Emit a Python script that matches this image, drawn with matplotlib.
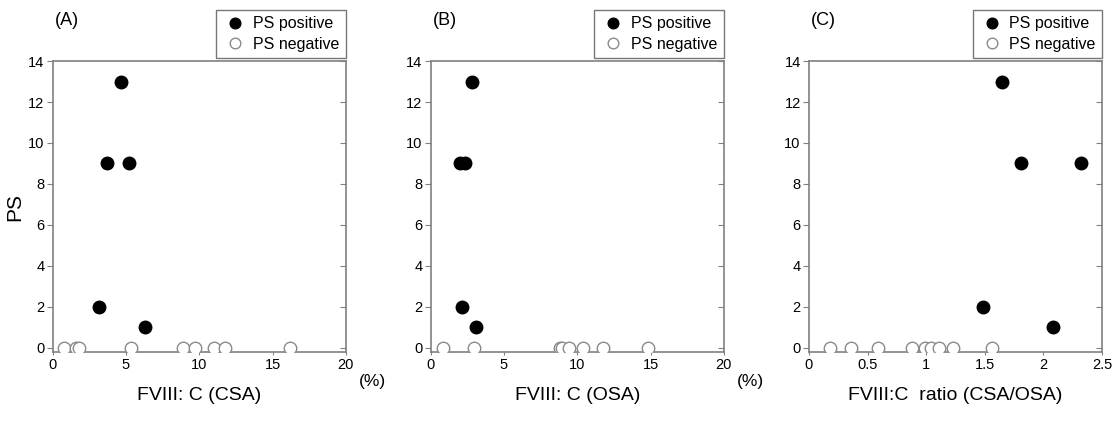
import matplotlib
matplotlib.use('Agg')
import matplotlib.pyplot as plt

plt.rcParams['font.family'] = ['Liberation Sans', 'DejaVu Sans']

# PS score for positive cases (same order in every panel)
ps_pos = [13, 9, 9, 2, 1]

# (A) FVIII:C by CSA (%)
csa_pos = [4.66, 3.68, 5.18, 3.18, 6.29]
csa_neg = [0.77, 1.57, 1.79, 5.32, 8.86, 9.72, 10.99, 11.76, 16.22]

# (B) FVIII:C by OSA (%)
osa_pos = [2.83, 1.98, 2.33, 2.16, 3.08]
osa_neg = [0.82, 2.98, 8.8, 8.95, 9.45, 10.41, 11.78, 14.8]

# (C) ratio CSA/OSA
ratio_pos = [1.65, 1.81, 2.32, 1.48, 2.08]
ratio_neg = [0.18, 0.36, 0.59, 0.88, 0.99, 1.04, 1.11, 1.23, 1.56]

panels = [
    ('(A)', 'FVIII: C (CSA)', csa_pos, csa_neg, 20, [0, 5, 10, 15, 20], True),
    ('(B)', 'FVIII: C (OSA)', osa_pos, osa_neg, 20, [0, 5, 10, 15, 20], True),
    ('(C)', 'FVIII:C  ratio (CSA/OSA)', ratio_pos, ratio_neg, 2.5,
     [0, 0.5, 1, 1.5, 2, 2.5], False),
]
xticklabels = {20: ['0', '5', '10', '15', '20'],
               2.5: ['0', '0.5', '1', '1.5', '2', '2.5']}

fig = plt.figure(figsize=(11.18, 4.21), dpi=100)
lefts = [0.0471, 0.3852, 0.7236]
spine_col = '#808080'

for i, (tag, xlab, xp, xn, xmax, xt, pct) in enumerate(panels):
    ax = fig.add_axes([lefts[i], 0.164, 0.2622, 0.691])
    ax.plot(xn, [0] * len(xn), 'o', ls='none', ms=9, mfc='white',
            mec='#8a8a8a', mew=1.0, label='PS negative', zorder=3)
    ax.plot(xp, ps_pos, 'o', ls='none', ms=9, mfc='black', mec='black',
            label='PS positive', zorder=4)
    ax.set_xlim(0, xmax)
    ax.set_ylim(-0.2, 14)
    ax.set_xticks(xt)
    ax.set_xticklabels(xticklabels[xmax])
    ax.set_yticks(range(0, 15, 2))
    for s in ax.spines.values():
        s.set_color(spine_col)
        s.set_linewidth(1.2)
    ax.tick_params(axis='y', direction='out', length=4, color=spine_col,
                   labelsize=10.5, pad=2)
    ax.tick_params(axis='x', direction='out', length=2, color=spine_col,
                   labelsize=10.5, pad=2)
    sec = ax.secondary_yaxis('right')
    sec.set_yticks(range(0, 15, 2))
    sec.tick_params(direction='in', length=4, color=spine_col, labelright=False)
    sec.spines['right'].set_visible(False)

    ax.set_xlabel(xlab, fontsize=14, labelpad=11)
    if i == 0:
        ax.set_ylabel('PS', fontsize=15, labelpad=3)
    ax.text(0.008, 1.14, tag, transform=ax.transAxes, fontsize=13,
            ha='left', va='center')
    if pct:
        ax.text(1.09, -0.10, '(%)', transform=ax.transAxes, fontsize=12.5,
                ha='center', va='center')

    h, l = ax.get_legend_handles_labels()
    leg = ax.legend(h[::-1], l[::-1], loc='lower right',
                    bbox_to_anchor=(1.0, 1.01), fontsize=11.5, frameon=True,
                    fancybox=False, borderpad=0.4, handletextpad=0.3,
                    labelspacing=0.35, handlelength=1.6, borderaxespad=0,
                    markerscale=0.85)
    leg.get_frame().set_edgecolor('#555555')
    leg.get_frame().set_linewidth(1.0)
    leg.set_zorder(5)

fig.savefig('out.png', dpi=100)
